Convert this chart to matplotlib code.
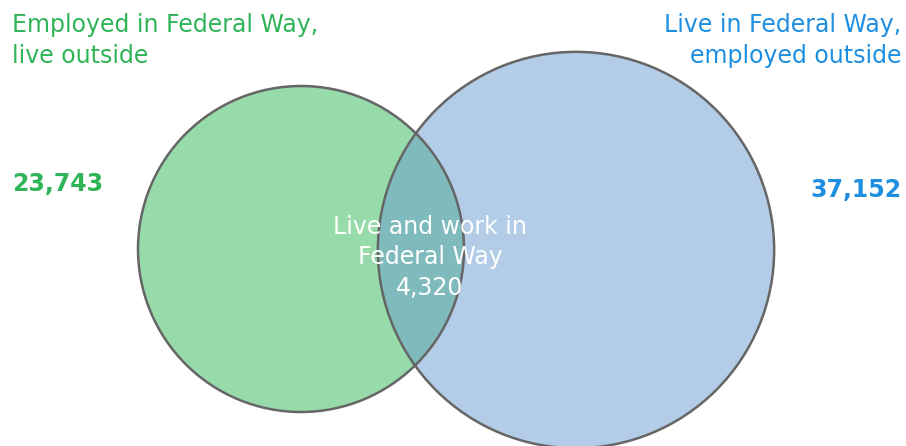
import numpy as np
import matplotlib
matplotlib.use('Agg')
import matplotlib.pyplot as plt
from matplotlib.patches import Circle

# Venn data: commuting flows for Federal Way
set_labels = ['Employed in Federal Way,\nlive outside', 'Live in Federal Way,\nemployed outside']
only_values = [23743, 37152]
overlap_label = 'Live and work in\nFederal Way'
overlap_value = 4320

green_fill = '#97dbab'
blue_fill = '#b3cde8'
overlap_fill = '#7fbabd'
green_text = '#2fb457'
blue_text = '#1e8fe0'
edge = '#666666'

plt.rcParams['font.family'] = ['DejaVu Sans']

fig = plt.figure(figsize=(9.06, 4.46), dpi=100)
ax = fig.add_axes([0, 0, 1, 1])
ax.set_xlim(0, 906)
ax.set_ylim(446, 0)
ax.set_aspect('equal')
ax.axis('off')

# circle area ~ total in each set
totals = [only_values[0] + overlap_value, only_values[1] + overlap_value]
k = 163 / np.sqrt(totals[0])
radii = [k * np.sqrt(t) for t in totals]
centers = [(301, 249), (576, 250)]

c_green = Circle(centers[0], radii[0], facecolor=green_fill, edgecolor='none')
c_blue = Circle(centers[1], radii[1], facecolor=blue_fill, edgecolor='none')
ax.add_patch(c_green)
ax.add_patch(c_blue)

# overlap region
ov = Circle(centers[0], radii[0], facecolor=overlap_fill, edgecolor='none')
ax.add_patch(ov)
clip = Circle(centers[1], radii[1], transform=ax.transData)
ov.set_clip_path(clip)

for c, r in zip(centers, radii):
    ax.add_patch(Circle(c, r, facecolor='none', edgecolor=edge, linewidth=1.8))

fs = 17
ax.text(12, 63, set_labels[0], ha='left', va='baseline', color=green_text,
        fontsize=fs, linespacing=1.35)
ax.text(901, 63, set_labels[1], ha='right', va='baseline', color=blue_text,
        fontsize=fs, linespacing=1.35, multialignment='right')

ax.text(12, 184, f'{only_values[0]:,}', ha='left', va='center', color=green_text,
        fontsize=fs, fontweight='bold')
ax.text(902, 190, f'{only_values[1]:,}', ha='right', va='center', color=blue_text,
        fontsize=fs, fontweight='bold')

ax.text(430, 295, f'{overlap_label}\n{overlap_value:,}', ha='center', va='baseline',
        color='white', fontsize=fs, linespacing=1.35)

fig.savefig('out.png', dpi=100)
